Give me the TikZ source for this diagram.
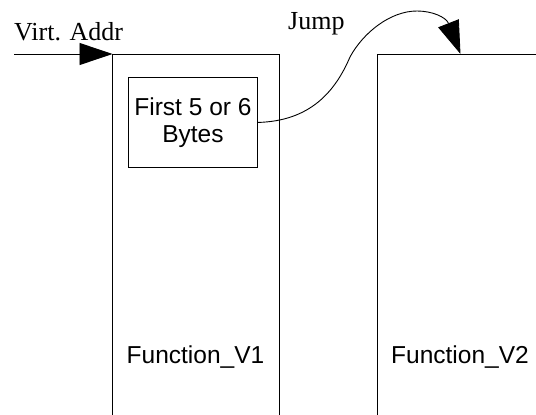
\documentclass[tikz,border=0pt]{standalone}
\usepackage{fontspec}
\setmainfont{Liberation Serif}
\setsansfont{Liberation Sans}
\usetikzlibrary{arrows.meta}
\begin{document}
\begin{tikzpicture}[x=1pt,y=-1pt,
  wall/.style={line width=0.9pt},
  bigtip/.style={-{Triangle[length=33pt,width=22pt]}},
  sanslabel/.style={font=\sffamily\fontsize{24.5}{27}\selectfont,align=center,inner sep=0pt},
  seriflabel/.style={font=\fontsize{26}{28}\selectfont,inner sep=0pt}]
\useasboundingbox (0,0) rectangle (536,415);

% corners of the two function blocks (open at the bottom)
\coordinate (v1tl) at (112.5,54);
\coordinate (v1tr) at (279,54);
\coordinate (v1bl) at (112.5,415);
\coordinate (v1br) at (279,415);
\coordinate (v2tl) at (377.5,54);
\coordinate (v2tr) at (536,54);
\coordinate (v2bl) at (377.5,415);
\coordinate (addrin) at (14,54);
\coordinate (jumpend) at (460.5,54);

% function blocks
\draw[wall] (v1bl) -- (v1tl) -- (v1tr) -- (v1br);
\draw[wall] (v2bl) -- (v2tl) -- (v2tr);

% patched prologue
\node[draw,wall,minimum width=129pt,minimum height=90pt,sanslabel,anchor=north west]
  (first) at (128,77) {First 5 or 6\\Bytes};

% labels
\node[seriflabel,anchor=base west] (addr) at (14,40) {Virt. Addr};
\node[seriflabel,anchor=base west] (jump) at (288,30) {Jump};
\node[sanslabel,anchor=base] (f1) at (195.5,363) {Function\_V1};
\node[sanslabel,anchor=base] (f2) at (460,363) {Function\_V2};

% entry arrow
\draw[wall,bigtip] (addrin) -- (v1tl);

% jump from the prologue into the second function
\draw[wall,bigtip] (first.east)
  .. controls (310,121) and (335,92) .. (350,57)
  .. controls (363,33) and (390,11) .. (417,11)
  .. controls (432,11) and (446,17) .. (jumpend);
\end{tikzpicture}
\end{document}
